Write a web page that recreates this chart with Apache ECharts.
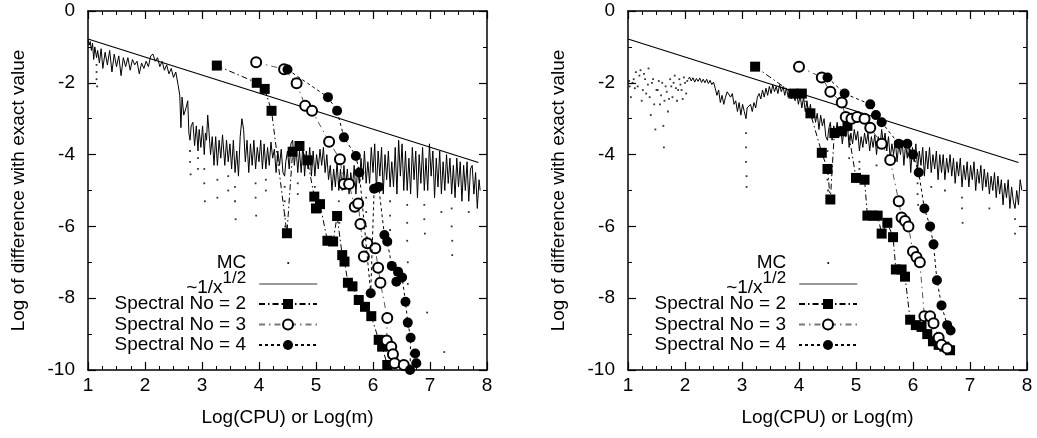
<!DOCTYPE html>
<html>
<head>
<meta charset="utf-8">
<script src="https://cdn.jsdelivr.net/npm/echarts@6/dist/echarts.min.js"></script>
<style>
html,body{margin:0;padding:0;background:#fff;}
#chart{width:1037px;height:438px;}
</style>
</head>
<body>
<div id="chart"></div>
<script>
// ---------- DATA ----------
const xTicks = [1, 2, 3, 4, 5, 6, 7, 8];
const yTicks = [0, -2, -4, -6, -8, -10];
const legendNames = ['MC', '~1/x^1/2', 'Spectral No = 2', 'Spectral No = 3', 'Spectral No = 4'];

// reference line ~1/x^(1/2) (log-log straight line)
const refLine = [[1.0, -0.78], [7.85, -4.22]];

// LEFT panel: MC trace (dense band) and sparse MC dots (excursions)
const leftMC = [[1.00,-0.80],[1.02,-0.95],[1.04,-0.85],[1.06,-1.10],[1.08,-0.90],[1.10,-1.35],[1.12,-1.00],[1.15,-1.30],[1.17,-1.10],[1.20,-1.45],[1.23,-1.05],[1.26,-1.60],[1.30,-1.15],[1.34,-1.50],[1.38,-1.10],[1.42,-1.70],[1.46,-1.20],[1.50,-1.55],[1.54,-1.25],[1.58,-1.80],[1.62,-1.30],[1.66,-1.55],[1.70,-1.30],[1.74,-1.65],[1.78,-1.35],[1.82,-1.50],[1.86,-1.40],[1.90,-1.75],[1.94,-1.45],[1.98,-1.60],[2.02,-1.40],[2.06,-1.55],[2.10,-1.25],[2.14,-1.20],[2.18,-1.40],[2.22,-1.30],[2.26,-1.55],[2.30,-1.40],[2.34,-1.65],[2.38,-1.50],[2.42,-1.75],[2.46,-1.60],[2.50,-1.85],[2.54,-1.70],[2.58,-2.05],[2.61,-2.35],[2.63,-3.25],[2.65,-2.40],[2.68,-2.90],[2.72,-2.70],[2.75,-2.50],[2.77,-3.40],[2.79,-3.60],[2.81,-3.20],[2.84,-3.10],[2.87,-3.75],[2.90,-3.20],[2.93,-3.90],[2.95,-3.30],[2.98,-3.80],[3.01,-3.20],[3.04,-4.00],[3.06,-3.40],[3.08,-3.60],[3.10,-2.90],[3.12,-3.30],[3.15,-4.00],[3.18,-3.50],[3.21,-4.30],[3.24,-3.50],[3.27,-4.30],[3.30,-3.60],[3.33,-4.10],[3.36,-3.45],[3.40,-4.30],[3.43,-3.60],[3.46,-4.20],[3.49,-3.70],[3.52,-4.40],[3.55,-3.60],[3.58,-4.50],[3.61,-3.90],[3.64,-4.60],[3.67,-3.50],[3.70,-3.00],[3.73,-3.30],[3.76,-4.20],[3.79,-3.60],[3.82,-4.50],[3.85,-3.70],[3.88,-4.30],[3.91,-3.60],[3.94,-4.40],[3.97,-3.80],[4.00,-4.20],[4.03,-3.60],[4.06,-4.40],[4.09,-3.70],[4.12,-4.40],[4.15,-3.80],[4.18,-4.30],[4.21,-3.65],[4.24,-4.10],[4.27,-3.85],[4.30,-4.50],[4.33,-3.90],[4.36,-4.30],[4.39,-3.85],[4.42,-4.50],[4.45,-4.60],[4.47,-4.20],[4.50,-3.90],[4.53,-4.40],[4.56,-3.70],[4.59,-3.60],[4.62,-4.30],[4.65,-3.80],[4.68,-4.50],[4.71,-3.90],[4.74,-4.50],[4.77,-3.70],[4.80,-4.60],[4.83,-3.90],[4.86,-4.40],[4.89,-3.80],[4.92,-4.60],[4.95,-3.90],[4.98,-4.60],[5.01,-4.00],[5.04,-4.40],[5.07,-3.85],[5.10,-4.30],[5.13,-3.80],[5.16,-4.50],[5.19,-4.00],[5.22,-4.70],[5.25,-4.30],[5.28,-5.00],[5.31,-4.40],[5.34,-4.90],[5.37,-4.20],[5.40,-5.00],[5.43,-4.40],[5.46,-5.00],[5.49,-4.30],[5.52,-4.90],[5.55,-4.40],[5.58,-5.10],[5.61,-4.50],[5.64,-4.90],[5.67,-4.30],[5.70,-5.10],[5.73,-4.40],[5.76,-4.80],[5.79,-4.10],[5.82,-4.70],[5.85,-3.90],[5.88,-4.80],[5.91,-4.20],[5.94,-4.80],[5.97,-3.80],[6.00,-4.50],[6.03,-3.70],[6.06,-5.00],[6.09,-3.90],[6.12,-4.60],[6.15,-3.80],[6.18,-5.10],[6.21,-4.00],[6.24,-4.70],[6.27,-3.90],[6.30,-4.90],[6.33,-4.20],[6.36,-4.90],[6.39,-3.80],[6.42,-5.10],[6.45,-3.60],[6.48,-4.60],[6.51,-3.70],[6.54,-5.00],[6.57,-3.90],[6.60,-5.00],[6.63,-4.10],[6.66,-5.10],[6.69,-3.80],[6.72,-4.70],[6.75,-3.90],[6.78,-5.20],[6.81,-4.00],[6.84,-4.80],[6.87,-3.80],[6.90,-5.00],[6.93,-4.10],[6.96,-5.00],[6.99,-3.70],[7.02,-4.60],[7.05,-3.90],[7.08,-5.20],[7.11,-4.10],[7.14,-4.90],[7.17,-3.90],[7.20,-5.10],[7.23,-4.20],[7.26,-5.00],[7.29,-4.00],[7.32,-4.80],[7.35,-4.10],[7.38,-5.10],[7.41,-4.30],[7.44,-5.20],[7.47,-4.10],[7.50,-4.90],[7.53,-4.20],[7.56,-5.30],[7.59,-4.30],[7.62,-5.00],[7.65,-4.20],[7.68,-5.30],[7.71,-4.40],[7.74,-4.30],[7.77,-5.10],[7.80,-4.50],[7.83,-5.50],[7.86,-4.70],[7.88,-5.00]];
const leftMCDots = [[1.15,-1.5],[1.15,-1.7],[1.15,-1.9],[1.16,-2.1],[2.79,-3.9],[2.79,-4.2],[2.80,-4.55],[2.93,-4.1],[2.93,-4.4],[3.04,-4.4],[3.04,-4.8],[3.05,-5.3],[3.27,-4.7],[3.27,-5.2],[3.46,-4.6],[3.46,-5.0],[3.58,-4.9],[3.58,-5.3],[3.59,-5.8],[3.94,-4.8],[3.94,-5.2],[3.95,-5.7],[4.12,-4.7],[4.12,-5.0],[4.45,-4.9],[4.45,-5.3],[4.45,-5.7],[4.46,-6.0],[4.46,-6.3],[4.68,-4.8],[4.68,-5.1],[4.98,-4.9],[4.98,-5.2],[5.40,-5.3],[5.40,-5.6],[5.41,-5.9],[5.88,-5.2],[5.88,-5.6],[5.88,-6.0],[5.89,-6.3],[5.89,-6.6],[6.30,-5.3],[6.30,-5.7],[6.30,-6.1],[6.31,-6.5],[6.31,-7.0],[6.60,-5.4],[6.60,-5.9],[6.60,-6.4],[6.61,-7.0],[6.61,-7.6],[6.61,-8.2],[6.62,-8.8],[6.90,-5.4],[6.90,-5.8],[6.91,-6.2],[7.20,-5.6],[7.38,-5.5],[7.38,-6.0],[7.39,-6.4],[7.39,-6.8],[7.68,-5.6],[6.95,-8.4],[7.25,-9.5]];
const leftSpec2 = [[3.26,-1.52],[3.96,-2.00],[4.10,-2.17],[4.22,-2.78],[4.49,-6.19],[4.59,-3.92],[4.71,-3.76],[4.85,-4.16],[4.97,-5.17],[5.00,-5.50],[5.07,-5.38],[5.20,-6.40],[5.30,-6.42],[5.37,-5.71],[5.46,-6.80],[5.50,-6.98],[5.56,-7.57],[5.64,-7.67],[5.75,-8.05],[5.86,-8.24],[5.97,-8.50],[6.10,-9.16],[6.16,-9.35],[6.25,-9.86]];
const leftSpec3 = [[3.95,-1.43],[4.44,-1.62],[4.66,-2.01],[4.81,-2.64],[4.93,-2.78],[5.23,-3.64],[5.42,-4.13],[5.49,-4.82],[5.58,-4.82],[5.68,-5.45],[5.74,-5.36],[5.78,-5.93],[5.84,-6.84],[5.90,-6.47],[6.04,-6.61],[6.09,-7.15],[6.13,-7.57],[6.25,-8.55],[6.24,-9.18],[6.32,-9.35],[6.35,-9.56],[6.38,-9.81],[6.54,-9.86]];
const leftSpec4 = [[4.50,-1.63],[5.21,-2.40],[5.37,-2.78],[5.49,-3.52],[5.70,-4.04],[5.76,-4.50],[5.96,-7.86],[6.02,-4.95],[6.10,-4.90],[6.20,-6.24],[6.25,-6.42],[6.33,-7.10],[6.41,-7.54],[6.44,-7.26],[6.51,-7.42],[6.57,-8.10],[6.61,-8.68],[6.66,-9.10],[6.65,-10.0],[6.74,-9.54],[6.76,-9.81]];

// RIGHT panel
const rightMC = [[2.06,-1.90],[2.08,-1.84],[2.11,-1.95],[2.14,-1.86],[2.17,-1.98],[2.20,-1.88],[2.23,-1.96],[2.26,-1.87],[2.29,-1.99],[2.32,-1.90],[2.35,-2.00],[2.38,-1.90],[2.41,-2.02],[2.44,-1.93],[2.47,-2.05],[2.50,-1.98],[2.53,-2.15],[2.56,-2.35],[2.59,-2.20],[2.62,-2.55],[2.65,-2.35],[2.68,-2.60],[2.71,-2.40],[2.74,-2.25],[2.77,-2.20],[2.80,-2.40],[2.83,-2.30],[2.86,-2.60],[2.89,-2.50],[2.92,-2.80],[2.95,-2.55],[2.98,-2.90],[3.01,-2.60],[3.04,-2.80],[3.07,-3.00],[3.09,-2.70],[3.12,-2.75],[3.15,-2.60],[3.18,-2.80],[3.21,-2.55],[3.24,-2.70],[3.27,-2.40],[3.30,-2.30],[3.33,-2.45],[3.36,-2.20],[3.39,-2.40],[3.42,-2.15],[3.45,-2.35],[3.48,-2.10],[3.51,-2.30],[3.54,-2.05],[3.57,-2.25],[3.60,-2.10],[3.63,-2.30],[3.66,-2.05],[3.69,-2.25],[3.72,-2.10],[3.75,-2.35],[3.78,-2.15],[3.81,-2.40],[3.84,-2.20],[3.87,-2.45],[3.90,-2.25],[3.93,-2.50],[3.96,-2.30],[3.99,-2.60],[4.02,-2.35],[4.05,-2.70],[4.08,-2.40],[4.11,-2.80],[4.14,-2.50],[4.17,-2.90],[4.20,-2.60],[4.23,-3.00],[4.26,-2.75],[4.29,-3.10],[4.32,-2.85],[4.35,-3.30],[4.38,-2.90],[4.41,-3.20],[4.44,-3.00],[4.47,-3.50],[4.50,-3.60],[4.52,-3.30],[4.55,-3.10],[4.58,-3.60],[4.61,-3.20],[4.64,-3.40],[4.67,-3.10],[4.70,-3.50],[4.73,-3.20],[4.76,-3.70],[4.79,-3.30],[4.82,-3.50],[4.85,-3.20],[4.88,-3.80],[4.91,-3.40],[4.94,-3.70],[4.97,-3.30],[5.00,-3.60],[5.03,-3.35],[5.06,-3.90],[5.09,-3.50],[5.12,-3.80],[5.15,-3.40],[5.18,-3.70],[5.21,-3.40],[5.24,-3.90],[5.27,-3.50],[5.30,-3.80],[5.33,-3.45],[5.36,-4.00],[5.39,-3.50],[5.42,-3.80],[5.45,-3.30],[5.48,-3.70],[5.51,-3.40],[5.54,-3.90],[5.57,-3.50],[5.60,-4.10],[5.63,-3.70],[5.66,-4.00],[5.69,-3.60],[5.72,-4.20],[5.75,-3.70],[5.78,-4.00],[5.81,-3.60],[5.84,-4.30],[5.87,-3.70],[5.90,-4.10],[5.93,-3.60],[5.96,-4.50],[5.99,-3.80],[6.02,-4.20],[6.05,-3.70],[6.08,-4.40],[6.11,-3.90],[6.14,-4.30],[6.17,-3.80],[6.20,-4.60],[6.23,-3.90],[6.26,-4.40],[6.29,-3.80],[6.32,-4.50],[6.35,-4.00],[6.38,-4.40],[6.41,-3.90],[6.44,-4.70],[6.47,-4.00],[6.50,-4.50],[6.53,-4.00],[6.56,-4.70],[6.59,-4.10],[6.62,-4.50],[6.65,-4.00],[6.68,-4.60],[6.71,-4.10],[6.74,-4.80],[6.77,-4.20],[6.80,-4.60],[6.83,-4.10],[6.86,-4.90],[6.89,-4.30],[6.92,-4.70],[6.95,-4.20],[6.98,-4.90],[7.01,-4.30],[7.04,-4.70],[7.07,-4.20],[7.10,-5.00],[7.13,-4.40],[7.16,-4.80],[7.19,-4.30],[7.22,-5.00],[7.25,-4.40],[7.28,-4.90],[7.31,-4.50],[7.34,-5.10],[7.37,-4.60],[7.40,-5.00],[7.43,-4.50],[7.46,-5.20],[7.49,-4.60],[7.52,-5.10],[7.55,-4.70],[7.58,-5.40],[7.61,-4.80],[7.64,-5.20],[7.67,-4.70],[7.70,-5.50],[7.73,-4.90],[7.76,-5.30],[7.79,-5.50],[7.82,-5.00],[7.85,-5.40],[7.88,-4.70],[7.91,-5.00]];
const rightMCDots = [[1.02,-1.95],[1.03,-2.1],[1.05,-2.4],[1.08,-2.0],[1.10,-1.9],[1.12,-2.15],[1.14,-1.7],[1.17,-2.1],[1.20,-1.8],[1.22,-1.65],[1.24,-2.5],[1.26,-2.2],[1.28,-1.75],[1.30,-1.9],[1.32,-2.3],[1.35,-2.05],[1.36,-1.6],[1.38,-2.4],[1.40,-2.9],[1.42,-2.0],[1.44,-1.9],[1.46,-2.6],[1.48,-3.3],[1.50,-2.2],[1.52,-2.2],[1.54,-1.95],[1.56,-2.6],[1.58,-2.35],[1.60,-2.0],[1.62,-3.2],[1.63,-3.8],[1.64,-2.5],[1.66,-2.1],[1.68,-2.25],[1.70,-2.8],[1.72,-2.45],[1.74,-1.9],[1.76,-2.1],[1.78,-2.4],[1.80,-2.0],[1.82,-1.8],[1.84,-2.15],[1.86,-2.5],[1.88,-2.2],[1.90,-1.9],[1.92,-2.05],[1.94,-2.2],[1.96,-2.45],[1.98,-1.85],[2.00,-2.0],[2.02,-2.3],[2.04,-1.95],[3.07,-3.4],[3.07,-3.8],[3.07,-4.2],[3.08,-4.6],[3.08,-4.9],[4.50,-3.9],[4.50,-4.3],[4.50,-4.7],[4.51,-5.0],[4.51,-5.3],[4.88,-4.1],[5.06,-4.2],[5.06,-4.4],[5.36,-4.3],[6.08,-4.8],[6.08,-5.1],[6.09,-5.4],[6.32,-4.9],[6.56,-5.0],[6.86,-5.2],[6.86,-5.5],[6.87,-5.9],[7.34,-5.5],[7.79,-5.8],[7.79,-6.2]];
const rightSpec2 = [[3.23,-1.55],[3.90,-2.30],[4.05,-2.30],[4.20,-2.85],[4.40,-3.95],[4.50,-4.40],[4.55,-5.25],[4.62,-3.40],[4.75,-3.35],[4.85,-3.20],[5.00,-4.65],[5.15,-4.70],[5.20,-5.70],[5.30,-5.70],[5.38,-5.70],[5.45,-6.20],[5.55,-5.90],[5.65,-6.30],[5.70,-7.20],[5.80,-7.20],[5.86,-7.40],[5.95,-8.60],[6.05,-8.75],[6.15,-8.80],[6.25,-9.00],[6.35,-9.20],[6.45,-9.30],[6.55,-9.35],[6.65,-9.45]];
const rightSpec3 = [[4.00,-1.55],[4.40,-1.85],[4.55,-2.25],[4.75,-2.55],[4.82,-2.95],[4.92,-3.00],[5.02,-2.95],[5.15,-3.00],[5.25,-3.25],[5.45,-3.70],[5.60,-4.15],[5.75,-5.30],[5.80,-5.75],[5.86,-5.85],[5.92,-6.00],[6.00,-6.70],[6.06,-6.85],[6.12,-7.00],[6.20,-8.50],[6.30,-8.50],[6.36,-8.70],[6.45,-9.10],[6.50,-9.30],[6.60,-9.40]];
const rightSpec4 = [[4.50,-1.85],[4.80,-2.30],[5.25,-2.60],[5.35,-2.90],[5.45,-3.10],[5.75,-3.70],[5.90,-3.70],[6.00,-4.00],[6.10,-4.50],[6.20,-5.50],[6.30,-6.00],[6.36,-6.50],[6.42,-7.50],[6.50,-8.20],[6.60,-8.75],[6.66,-8.90]];

// ---------- CHART ----------
const FONT = '"Liberation Sans", Arial, Helvetica, sans-serif';
const chart = echarts.init(document.getElementById('chart'), null, {renderer: 'canvas'});

const gridL = {left: 88, top: 11, width: 399, height: 359};
const gridR = {left: 628, top: 11, width: 399, height: 359};

function xAx(gi, pos) {
  const main = pos === 'bottom';
  return {
    gridIndex: gi, type: 'value', position: pos, min: xTicks[0], max: xTicks[xTicks.length - 1], interval: 1,
    name: main ? 'Log(CPU) or Log(m)' : '', nameLocation: 'middle', nameGap: 38,
    nameTextStyle: {fontFamily: FONT, fontSize: 19, color: '#000'},
    axisLine: {show: true, onZero: false, lineStyle: {color: '#000', width: 1.5}},
    axisTick: {show: true, inside: true, length: 8, lineStyle: {color: '#000', width: 1.2}},
    minorTick: {show: true, splitNumber: 4, length: 4, lineStyle: {color: '#000', width: 1}},
    axisLabel: {show: main, fontFamily: FONT, fontSize: 19, color: '#000', margin: 6},
    splitLine: {show: false}, minorSplitLine: {show: false}
  };
}
function yAx(gi, pos) {
  const main = pos === 'left';
  return {
    gridIndex: gi, type: 'value', position: pos, min: yTicks[yTicks.length - 1], max: yTicks[0], interval: 2,
    name: main ? 'Log of difference with exact value' : '', nameLocation: 'middle', nameGap: 60, nameRotate: 90,
    nameTextStyle: {fontFamily: FONT, fontSize: 19, color: '#000'},
    axisLine: {show: true, onZero: false, lineStyle: {color: '#000', width: 1.5}},
    axisTick: {show: true, inside: true, length: 8, lineStyle: {color: '#000', width: 1.2}},
    minorTick: {show: true, splitNumber: 2, length: 4, lineStyle: {color: '#000', width: 1}},
    axisLabel: {show: main, fontFamily: FONT, fontSize: 19, color: '#000', margin: 13},
    splitLine: {show: false}, minorSplitLine: {show: false}
  };
}

const DOT_ICON = 'path://M0 0L0 0M100 100L100 100M43 43H57V57H43Z';
const LEG_TEXT = {fontFamily: FONT, fontSize: 19, color: '#000', lineHeight: 20, padding: [0, 8, 0, 0],
  rich: {
    b: {fontFamily: FONT, fontSize: 19, color: '#000', lineHeight: 20, padding: [8, 0, 0, 0]},
    s: {fontFamily: FONT, fontSize: 17, color: '#000', lineHeight: 16, padding: [0, 0, 12, 0]}
  }};

// upper legend block: MC and ~1/x^(1/2)
function legendTop(rightPx) {
  return {
    orient: 'vertical', right: rightPx, top: 253, align: 'right', padding: 0,
    itemWidth: 58, itemHeight: 12.5, itemGap: -3.5, selectedMode: false,
    textStyle: LEG_TEXT,
    formatter: function (n) { return n === legendNames[1] ? '{b|~1/x}{s|1/2}' : n; },
    data: [
      {name: legendNames[0], icon: DOT_ICON, itemStyle: {color: '#000', borderWidth: 0}},
      {name: legendNames[1], itemStyle: {opacity: 0}, lineStyle: {color: '#777', width: 1.5}}
    ]
  };
}
// lower legend block: spectral series
function legendBottom(rightPx) {
  return {
    orient: 'vertical', right: rightPx, top: 294, align: 'right', padding: 0,
    itemWidth: 58, itemHeight: 12.5, itemGap: 0.5, selectedMode: false,
    textStyle: LEG_TEXT,
    data: [
      {name: legendNames[2]},
      {name: legendNames[3], lineStyle: {color: '#777'}},
      {name: legendNames[4]}
    ]
  };
}

function panelSeries(xi, yi, mc, mcDots, s2, s3, s4) {
  return [
    {name: legendNames[0], type: 'line', xAxisIndex: xi, yAxisIndex: yi, data: mc, showSymbol: false, symbol: 'none',
      lineStyle: {color: '#000', width: 1.0}, itemStyle: {color: '#000'}, z: 2, silent: true},
    {name: legendNames[0], type: 'scatter', xAxisIndex: xi, yAxisIndex: yi, data: mcDots, symbol: 'rect', symbolSize: 1.8,
      itemStyle: {color: '#000'}, z: 2, silent: true},
    {name: legendNames[1], type: 'line', xAxisIndex: xi, yAxisIndex: yi, data: refLine, showSymbol: false, symbol: 'none',
      lineStyle: {color: '#000', width: 1.2}, itemStyle: {color: '#000'}, z: 3, silent: true},
    {name: legendNames[2], type: 'line', xAxisIndex: xi, yAxisIndex: yi, data: s2, symbol: 'rect', symbolSize: 10,
      lineStyle: {color: '#000', width: 1, type: [6, 3, 1.5, 3]}, itemStyle: {color: '#000'}, z: 4, silent: true},
    {name: legendNames[3], type: 'line', xAxisIndex: xi, yAxisIndex: yi, data: s3, symbol: 'emptyCircle', symbolSize: 10,
      lineStyle: {color: '#555', width: 1, type: [6, 4, 1.5, 4]}, itemStyle: {color: '#000', borderWidth: 1.1}, z: 5, silent: true},
    {name: legendNames[4], type: 'line', xAxisIndex: xi, yAxisIndex: yi, data: s4, symbol: 'circle', symbolSize: 10,
      lineStyle: {color: '#000', width: 1, type: [3, 3]}, itemStyle: {color: '#000'}, z: 6, silent: true}
  ];
}

chart.setOption({
  animation: false,
  backgroundColor: '#fff',
  textStyle: {fontFamily: FONT},
  grid: [gridL, gridR],
  xAxis: [xAx(0, 'bottom'), xAx(0, 'top'), xAx(1, 'bottom'), xAx(1, 'top')],
  yAxis: [yAx(0, 'left'), yAx(0, 'right'), yAx(1, 'left'), yAx(1, 'right')],
  legend: [legendTop(1037 - 318), legendBottom(1037 - 318), legendTop(1037 - 858), legendBottom(1037 - 858)],
  series: [].concat(
    panelSeries(0, 0, leftMC, leftMCDots, leftSpec2, leftSpec3, leftSpec4),
    panelSeries(2, 2, rightMC, rightMCDots, rightSpec2, rightSpec3, rightSpec4)
  )
});
</script>
</body>
</html>
